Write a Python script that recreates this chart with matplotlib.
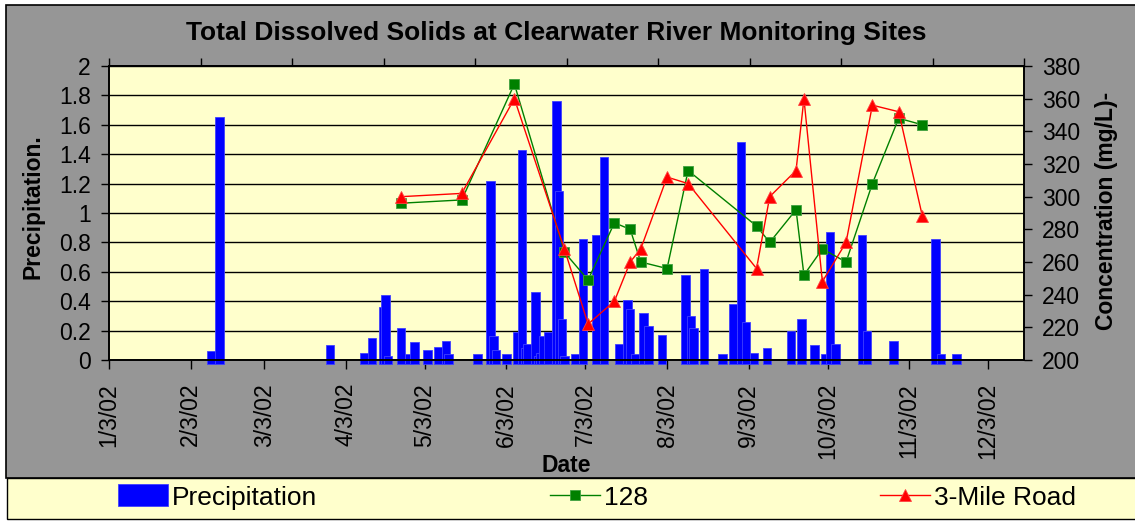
import datetime as dt

import matplotlib
matplotlib.use("Agg")
import matplotlib.dates as mdates
import matplotlib.pyplot as plt
import numpy as np
from matplotlib.patches import Rectangle

plt.rcParams["font.family"] = ["Liberation Sans", "DejaVu Sans"]

# =============================
# Data
# =============================

precip_dates = [
    "2002-02-11", "2002-02-14", "2002-03-28", "2002-04-10", "2002-04-13",
    "2002-04-17", "2002-04-18", "2002-04-19", "2002-04-24", "2002-04-27",
    "2002-04-29", "2002-05-04", "2002-05-08", "2002-05-11", "2002-05-12",
    "2002-05-23", "2002-05-28", "2002-05-29", "2002-05-30", "2002-06-03",
    "2002-06-07", "2002-06-09", "2002-06-10", "2002-06-11", "2002-06-14",
    "2002-06-15", "2002-06-16", "2002-06-17", "2002-06-19", "2002-06-22",
    "2002-06-23", "2002-06-24", "2002-06-25", "2002-06-29", "2002-07-02",
    "2002-07-07", "2002-07-10", "2002-07-16", "2002-07-19", "2002-07-20",
    "2002-07-22", "2002-07-25", "2002-07-27", "2002-08-01", "2002-08-10",
    "2002-08-12", "2002-08-13", "2002-08-17", "2002-08-24", "2002-08-28",
    "2002-08-31", "2002-09-02", "2002-09-05", "2002-09-10", "2002-09-19",
    "2002-09-23", "2002-09-28", "2002-10-02", "2002-10-04", "2002-10-06",
    "2002-10-16", "2002-10-18", "2002-10-28", "2002-11-13", "2002-11-15",
    "2002-11-21",
]
precip_values = [
    0.06, 1.65, 0.10, 0.05, 0.15,
    0.36, 0.44, 0.03, 0.22, 0.04,
    0.12, 0.07, 0.09, 0.13, 0.04,
    0.00, 1.22, 0.16, 0.07, 0.00,
    0.19, 1.43, 0.08, 0.11, 0.46,
    0.03, 0.05, 0.16, 0.19, 1.76,
    1.15, 0.28, 0.03, 0.04, 0.82,
    0.85, 1.38, 0.11, 0.41, 0.35,
    0.04, 0.32, 0.23, 0.17, 0.58,
    0.30, 0.22, 0.62, 0.00, 0.38,
    1.48, 0.26, 0.05, 0.08, 0.20,
    0.28, 0.10, 0.00, 0.87, 0.11,
    0.85, 0.20, 0.13, 0.82, 0.00,
    0.00,
]

sample_dates = [
    "2002-04-24", "2002-05-17", "2002-06-06", "2002-06-25", "2002-07-04",
    "2002-07-14", "2002-07-20", "2002-07-24", "2002-08-03", "2002-08-11",
    "2002-09-06", "2002-09-11", "2002-09-21", "2002-09-24", "2002-10-01",
    "2002-10-10", "2002-10-20", "2002-10-30", "2002-11-08",
]
tds_128 = [296, 298, 369, 266, 249, 284, 280, 260, 256, 316,
           282, 272, 292, 252, 268, 260, 308, 348, 344]
tds_3mile = [300, 302, 360, 268, 222, 236, 260, 268, 312, 308,
             256, 300, 316, 360, 248, 272, 356, 352, 288]

tick_dates = [
    "2002-01-03", "2002-02-03", "2002-03-03", "2002-04-03", "2002-05-03",
    "2002-06-03", "2002-07-03", "2002-08-03", "2002-09-03", "2002-10-03",
    "2002-11-03", "2002-12-03",
]
tick_labels = ["1/3/02", "2/3/02", "3/3/02", "4/3/02", "5/3/02", "6/3/02",
               "7/3/02", "8/3/02", "9/3/02", "10/3/02", "11/3/02", "12/3/02"]


def to_num(dates):
    return mdates.date2num([dt.datetime.strptime(d, "%Y-%m-%d") for d in dates])


# =============================
# Figure
# =============================

W, H = 1135, 521
fig = plt.figure(figsize=(W / 100, H / 100), dpi=100, facecolor="white")

# chart area (gray) and legend strip (yellow)
fig.add_artist(Rectangle((6 / W, 1 - 478 / H), 1.1, 473 / H, transform=fig.transFigure,
                         facecolor="#969696", edgecolor="black", linewidth=1.2, zorder=-2))
fig.add_artist(Rectangle((7 / W, 1 - 519 / H), 1.1, 41 / H, transform=fig.transFigure,
                         facecolor="#FFFFCC", edgecolor="black", linewidth=1.0, zorder=-2))

ax = fig.add_axes([109 / W, 1 - 360 / H, (1024 - 109) / W, (360 - 66) / H])
ax.set_facecolor("#FFFFCC")

x_bar = to_num(precip_dates)
v_bar = np.array(precip_values)
bar_floor = 0.03  # Excel draws the bars slightly below the axis
heights = np.where(v_bar == 0, 0.04, v_bar) + bar_floor
bars = ax.bar(x_bar, heights, bottom=-bar_floor, width=3.2, color="#0000FF",
              edgecolor="#4040FF", linewidth=0.6, zorder=2, clip_on=False,
              label="Precipitation")

x0 = to_num(["2002-01-03"])[0]
ax.set_xlim(x0, x0 + 347.6)
ax.set_ylim(0, 2)
ax.set_yticks(np.arange(0, 2.01, 0.2))
ax.set_yticklabels(["0", "0.2", "0.4", "0.6", "0.8", "1", "1.2", "1.4", "1.6", "1.8", "2"])
ax.yaxis.grid(True, color="black", linewidth=1.0, zorder=1)
ax.set_axisbelow(True)

ax.set_xticks(to_num(tick_dates))
ax.set_xticklabels(tick_labels, rotation=90, va="top")
ax.tick_params(axis="x", direction="out", length=6.5, width=1, pad=10, labelsize=16.5)
ax.tick_params(axis="y", direction="out", length=6, width=1, pad=7, labelsize=16.5)

# secondary category axis on top: ticks only
sec = ax.secondary_xaxis("top")
sec.set_xticks(np.linspace(x0, x0 + 347.6, 11))
sec.set_xticklabels([])
sec.tick_params(direction="out", length=6, width=1)
sec.spines["top"].set_linewidth(1.2)

ax2 = ax.twinx()
l128, = ax2.plot(to_num(sample_dates), tds_128, color="#008000", linewidth=1.0,
                 marker="s", markersize=7, markerfacecolor="#008000",
                 markeredgecolor="#40A040", markeredgewidth=0.6, label="128")
l3m, = ax2.plot(to_num(sample_dates), tds_3mile, color="#FF0000", linewidth=1.0,
                marker="^", markersize=8.5, markerfacecolor="#FF0000",
                markeredgecolor="#FF4040", markeredgewidth=0.6, label="3-Mile Road")
ax2.set_ylim(200, 380)
ax2.set_yticks(np.arange(200, 381, 20))
ax2.tick_params(axis="y", direction="out", length=6, width=1, pad=7, labelsize=16.5)

for a in (ax, ax2):
    for s in a.spines.values():
        s.set_color("black")
        s.set_linewidth(1.2)

fig.text(556 / W, 1 - 33 / H, "Total Dissolved Solids at Clearwater River Monitoring Sites",
         ha="center", va="center", fontsize=19, fontweight="bold")
fig.text(33 / W, 1 - 207 / H, "Precipitation.", rotation=90, ha="center", va="center",
         fontsize=16.5, fontweight="bold")
fig.text(1106 / W, 1 - 211 / H, "Concentration (mg/L)-", rotation=90, ha="center",
         va="center", fontsize=16.5, fontweight="bold")
fig.text(566 / W, 1 - 466 / H, "Date", ha="center", va="center", fontsize=16.5,
         fontweight="bold")

fig.legend([bars, l128, l3m], ["Precipitation", "128", "3-Mile Road"],
           loc="center left", bbox_to_anchor=(118 / W, 1 - 497 / H), ncol=3,
           frameon=False, fontsize=19, handlelength=1.9, handleheight=0.9,
           handletextpad=0.15, columnspacing=8.8, borderpad=0, borderaxespad=0)

fig.savefig("out.png", dpi=100, facecolor=fig.get_facecolor())
